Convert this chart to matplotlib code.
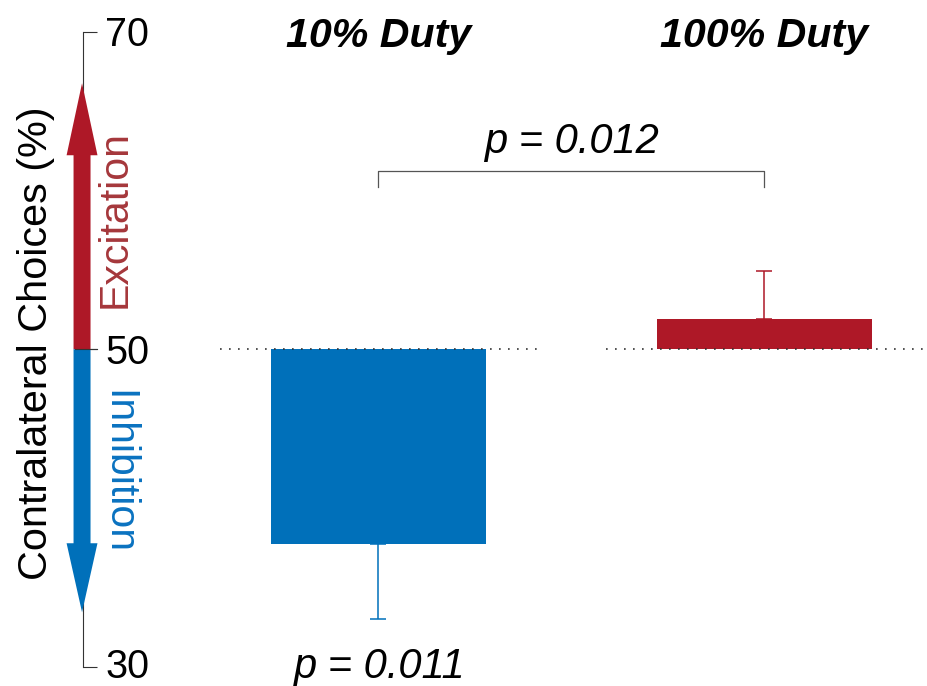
import matplotlib
matplotlib.use("Agg")
import matplotlib.pyplot as plt
from matplotlib.patches import FancyArrow

plt.rcParams['font.family'] = ['Liberation Sans', 'DejaVu Sans']

# ---- data ----
conditions = ["10% Duty", "100% Duty"]
means = [37.70, 51.89]          # contralateral choices (%)
errs_low = [4.72, 0.0]
errs_high = [0.0, 3.03]
baseline = 50
yticks = [30, 50, 70]
p_within = ["p = 0.011", None]
p_between = "p = 0.012"

bar_colors = ["#0070BA", "#AE1827"]
red_text = "#A5373B"
blue_text = "#0A72C0"

# arrow extents (data units)
exc_tip, exc_head = 66.77, 4.54
inh_tip, inh_head = 33.42, 4.35

W, H = 927, 686
fig = plt.figure(figsize=(W / 100, H / 100), dpi=100)
ax = fig.add_axes([83 / W, 19.5 / H, (W - 83) / W, 634.5 / H])
ax.set_xlim(-0.7655, 1.421)
ax.set_ylim(30, 70)

x = list(range(len(conditions)))
bars = ax.bar(x, [m - baseline for m in means], bottom=baseline, width=0.557,
              color=bar_colors, edgecolor='none', zorder=2)
for xi, m, lo, hi, c in zip(x, means, errs_low, errs_high, bar_colors):
    ax.errorbar(xi, m, yerr=[[lo], [hi]], fmt='none', ecolor=c,
                elinewidth=1.1, capsize=5.5, capthick=1.1, zorder=3)

# dotted chance lines
for xi in x:
    ax.plot([xi - 0.41, xi + 0.41], [baseline, baseline], color='#333333',
            linewidth=1.2, linestyle=(0, (1, 4.4)), zorder=2.5)

# spines / ticks
for s in ['top', 'right', 'bottom']:
    ax.spines[s].set_visible(False)
ax.spines['left'].set_bounds(30, 70)
ax.spines['left'].set_color('#333333')
ax.spines['left'].set_linewidth(0.8)
ax.set_xticks([])
ax.set_yticks(yticks)
ax.tick_params(axis='y', direction='in', length=10, width=0.8, color='#333333',
               labelleft=False)
for t in yticks:
    dy = 0.72 if t == min(yticks) else 0.91
    ax.text(-0.7085, t - dy, str(t), ha='left', va='baseline', fontsize=28.5,
            clip_on=False)

# arrows
ax_x = -0.768
shaft_w, head_w = 0.044, 0.080
ax.add_patch(FancyArrow(ax_x, baseline, 0, exc_tip - baseline, width=shaft_w,
                        head_width=head_w, head_length=exc_head,
                        length_includes_head=True, color=bar_colors[1],
                        linewidth=0, clip_on=False, zorder=3))
ax.add_patch(FancyArrow(ax_x, baseline, 0, inh_tip - baseline, width=shaft_w,
                        head_width=head_w, head_length=inh_head,
                        length_includes_head=True, color=bar_colors[0],
                        linewidth=0, clip_on=False, zorder=3))
ax.plot([-0.786, -0.729], [baseline, baseline], color='#333333', linewidth=0.8,
        clip_on=False, zorder=4)

ax.text(-0.6555, 58.23, "Excitation", rotation=90, rotation_mode='anchor',
        ha='center', va='baseline', fontsize=29.5, color=red_text)
ax.text(-0.7021, 42.24, "Inhibition", rotation=-90, rotation_mode='anchor',
        ha='center', va='baseline', fontsize=29.5, color=blue_text)

fig.text(47 / W, 1 - 343.5 / H, "Contralateral Choices (%)", rotation=90,
         rotation_mode='anchor', ha='center', va='baseline', fontsize=29.8,
         color='black')

# titles
for xi, name in zip(x, conditions):
    ax.text(xi, 69.04, name, ha='center', va='baseline', fontsize=29.6,
            fontweight='bold', fontstyle='italic', clip_on=False)

# within-condition p
for xi, p in zip(x, p_within):
    if p:
        ax.text(xi, 29.26, p, ha='center', va='baseline', fontsize=30,
                fontstyle='italic', clip_on=False)

# bracket
ax.plot([0, 0, 1, 1], [60.21, 61.22, 61.22, 60.21], color='#555555',
        linewidth=0.9, zorder=3)
ax.text(0.5, 62.36, p_between, ha='center', va='baseline', fontsize=30,
        fontstyle='italic')

fig.savefig("out.png", dpi=100)
